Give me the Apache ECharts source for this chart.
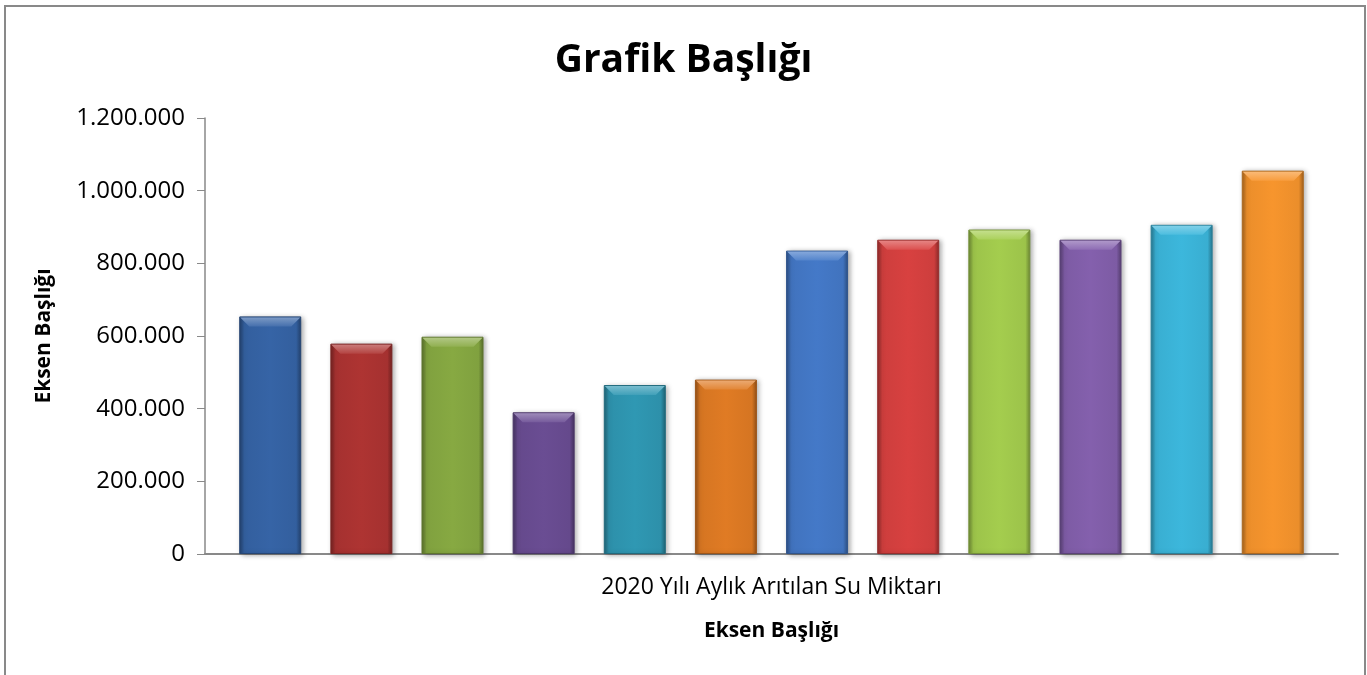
<!DOCTYPE html>
<html><head><meta charset="utf-8">
<script src="https://cdn.jsdelivr.net/npm/echarts@6/dist/echarts.min.js"></script>
<style>html,body{margin:0;padding:0;background:#fff}#c{width:1367px;height:675px}</style>
</head><body><div id="c"></div>
<script>
var categories = ['2020 Yılı Aylık Arıtılan Su Miktarı'];
var seriesNames = ['Ocak','Şubat','Mart','Nisan','Mayıs','Haziran','Temmuz','Ağustos','Eylül','Ekim','Kasım','Aralık'];
var seriesValues = [654000, 579000, 598000, 390000, 465000, 480000, 835000, 865000, 893000, 865000, 906000, 1055000];
var yTicks = [0, 200000, 400000, 600000, 800000, 1000000, 1200000];
var colors = ['#3664a6','#ae3432','#87a942','#6a4d93','#2f98b3','#e07b24','#4479c8','#d84140','#a4cd4e','#8460ad','#3cb7dc','#f7952d'];

function shade(hex, f){
  var n=parseInt(hex.slice(1),16),r=n>>16,g=(n>>8)&255,b=n&255;
  function c(v){v=f<0?v*(1+f):v+(255-v)*f;return Math.max(0,Math.min(255,Math.round(v)));}
  return 'rgb('+c(r)+','+c(g)+','+c(b)+')';
}
function fmt(v){return String(v).replace(/\B(?=(\d{3})+(?!\d))/g,'.');}

var chart = echarts.init(document.getElementById('c'));
var series = seriesValues.map(function(v,i){
  var col = colors[i];
  return {
    name: seriesNames[i], type:'bar', data:[v],
    barWidth: 62, barGap: '47%',
    itemStyle:{
      color: new echarts.graphic.LinearGradient(0,0,1,0,[
        {offset:0,color:shade(col,-0.35)},
        {offset:0.08,color:shade(col,-0.05)},
        {offset:0.5,color:col},
        {offset:0.92,color:shade(col,-0.05)},
        {offset:1,color:shade(col,-0.35)}
      ]),
      borderColor: shade(col,-0.3), borderWidth: 1,
      shadowColor:'rgba(0,0,0,0.35)', shadowBlur:5, shadowOffsetX:2, shadowOffsetY:1
    }
  };
});
series.push({
  type:'custom', silent:true, z:5,
  data: seriesValues.map(function(v,i){return [0,v,i];}),
  renderItem:function(params, api){
    var i = api.value(2);
    var top = api.coord([0, api.value(1)]);
    var bw = 62, gap = 62*0.47;
    var total = 12*bw + 11*gap;
    var x0 = top[0] - total/2 + i*(bw+gap);
    var col = colors[i];
    return {type:'polygon', shape:{points:[[x0+1,top[1]+1],[x0+bw-1,top[1]+1],[x0+bw-10,top[1]+10],[x0+10,top[1]+10]]},
      style:{fill:new echarts.graphic.LinearGradient(0,0,0,1,[{offset:0,color:shade(col,0.35)},{offset:1,color:shade(col,0.08)}])}};
  }
});

chart.setOption({
  animation:false,
  backgroundColor:'#fff',
  color: colors,
  title:{text:'Grafik Başlığı', left:'center', top:36,
    textStyle:{fontFamily:'Open Sans', fontWeight:'bold', fontSize:39, color:'#000'}},
  grid:{left:205, right:29, top:118, bottom:121, containLabel:false},
  xAxis:{type:'category', data:categories,
    name:'Eksen Başlığı', nameLocation:'middle', nameGap:67,
    nameTextStyle:{fontFamily:'Open Sans', fontWeight:'bold', fontSize:21, color:'#000'},
    axisLine:{lineStyle:{color:'#898989', width:2}},
    axisTick:{show:false},
    axisLabel:{fontFamily:'Open Sans', fontSize:23, color:'#000', margin:22}
  },
  yAxis:{type:'value', min:0, max:1200000, interval:200000,
    name:'Eksen Başlığı', nameLocation:'middle', nameGap:150, nameRotate:90,
    nameTextStyle:{fontFamily:'Open Sans', fontWeight:'bold', fontSize:21, color:'#000'},
    axisLine:{show:true, lineStyle:{color:'#898989', width:1.5}},
    axisTick:{show:true, length:8, lineStyle:{color:'#898989'}},
    splitLine:{show:false},
    axisLabel:{fontFamily:'Open Sans', fontSize:24, color:'#000', margin:20, formatter:function(v){return fmt(v);}}
  },
  graphic:[{type:'rect', shape:{x:5,y:6,width:1360,height:700}, style:{fill:'none', stroke:'#898989', lineWidth:2}, silent:true}],
  series: series
});
</script></body></html>
